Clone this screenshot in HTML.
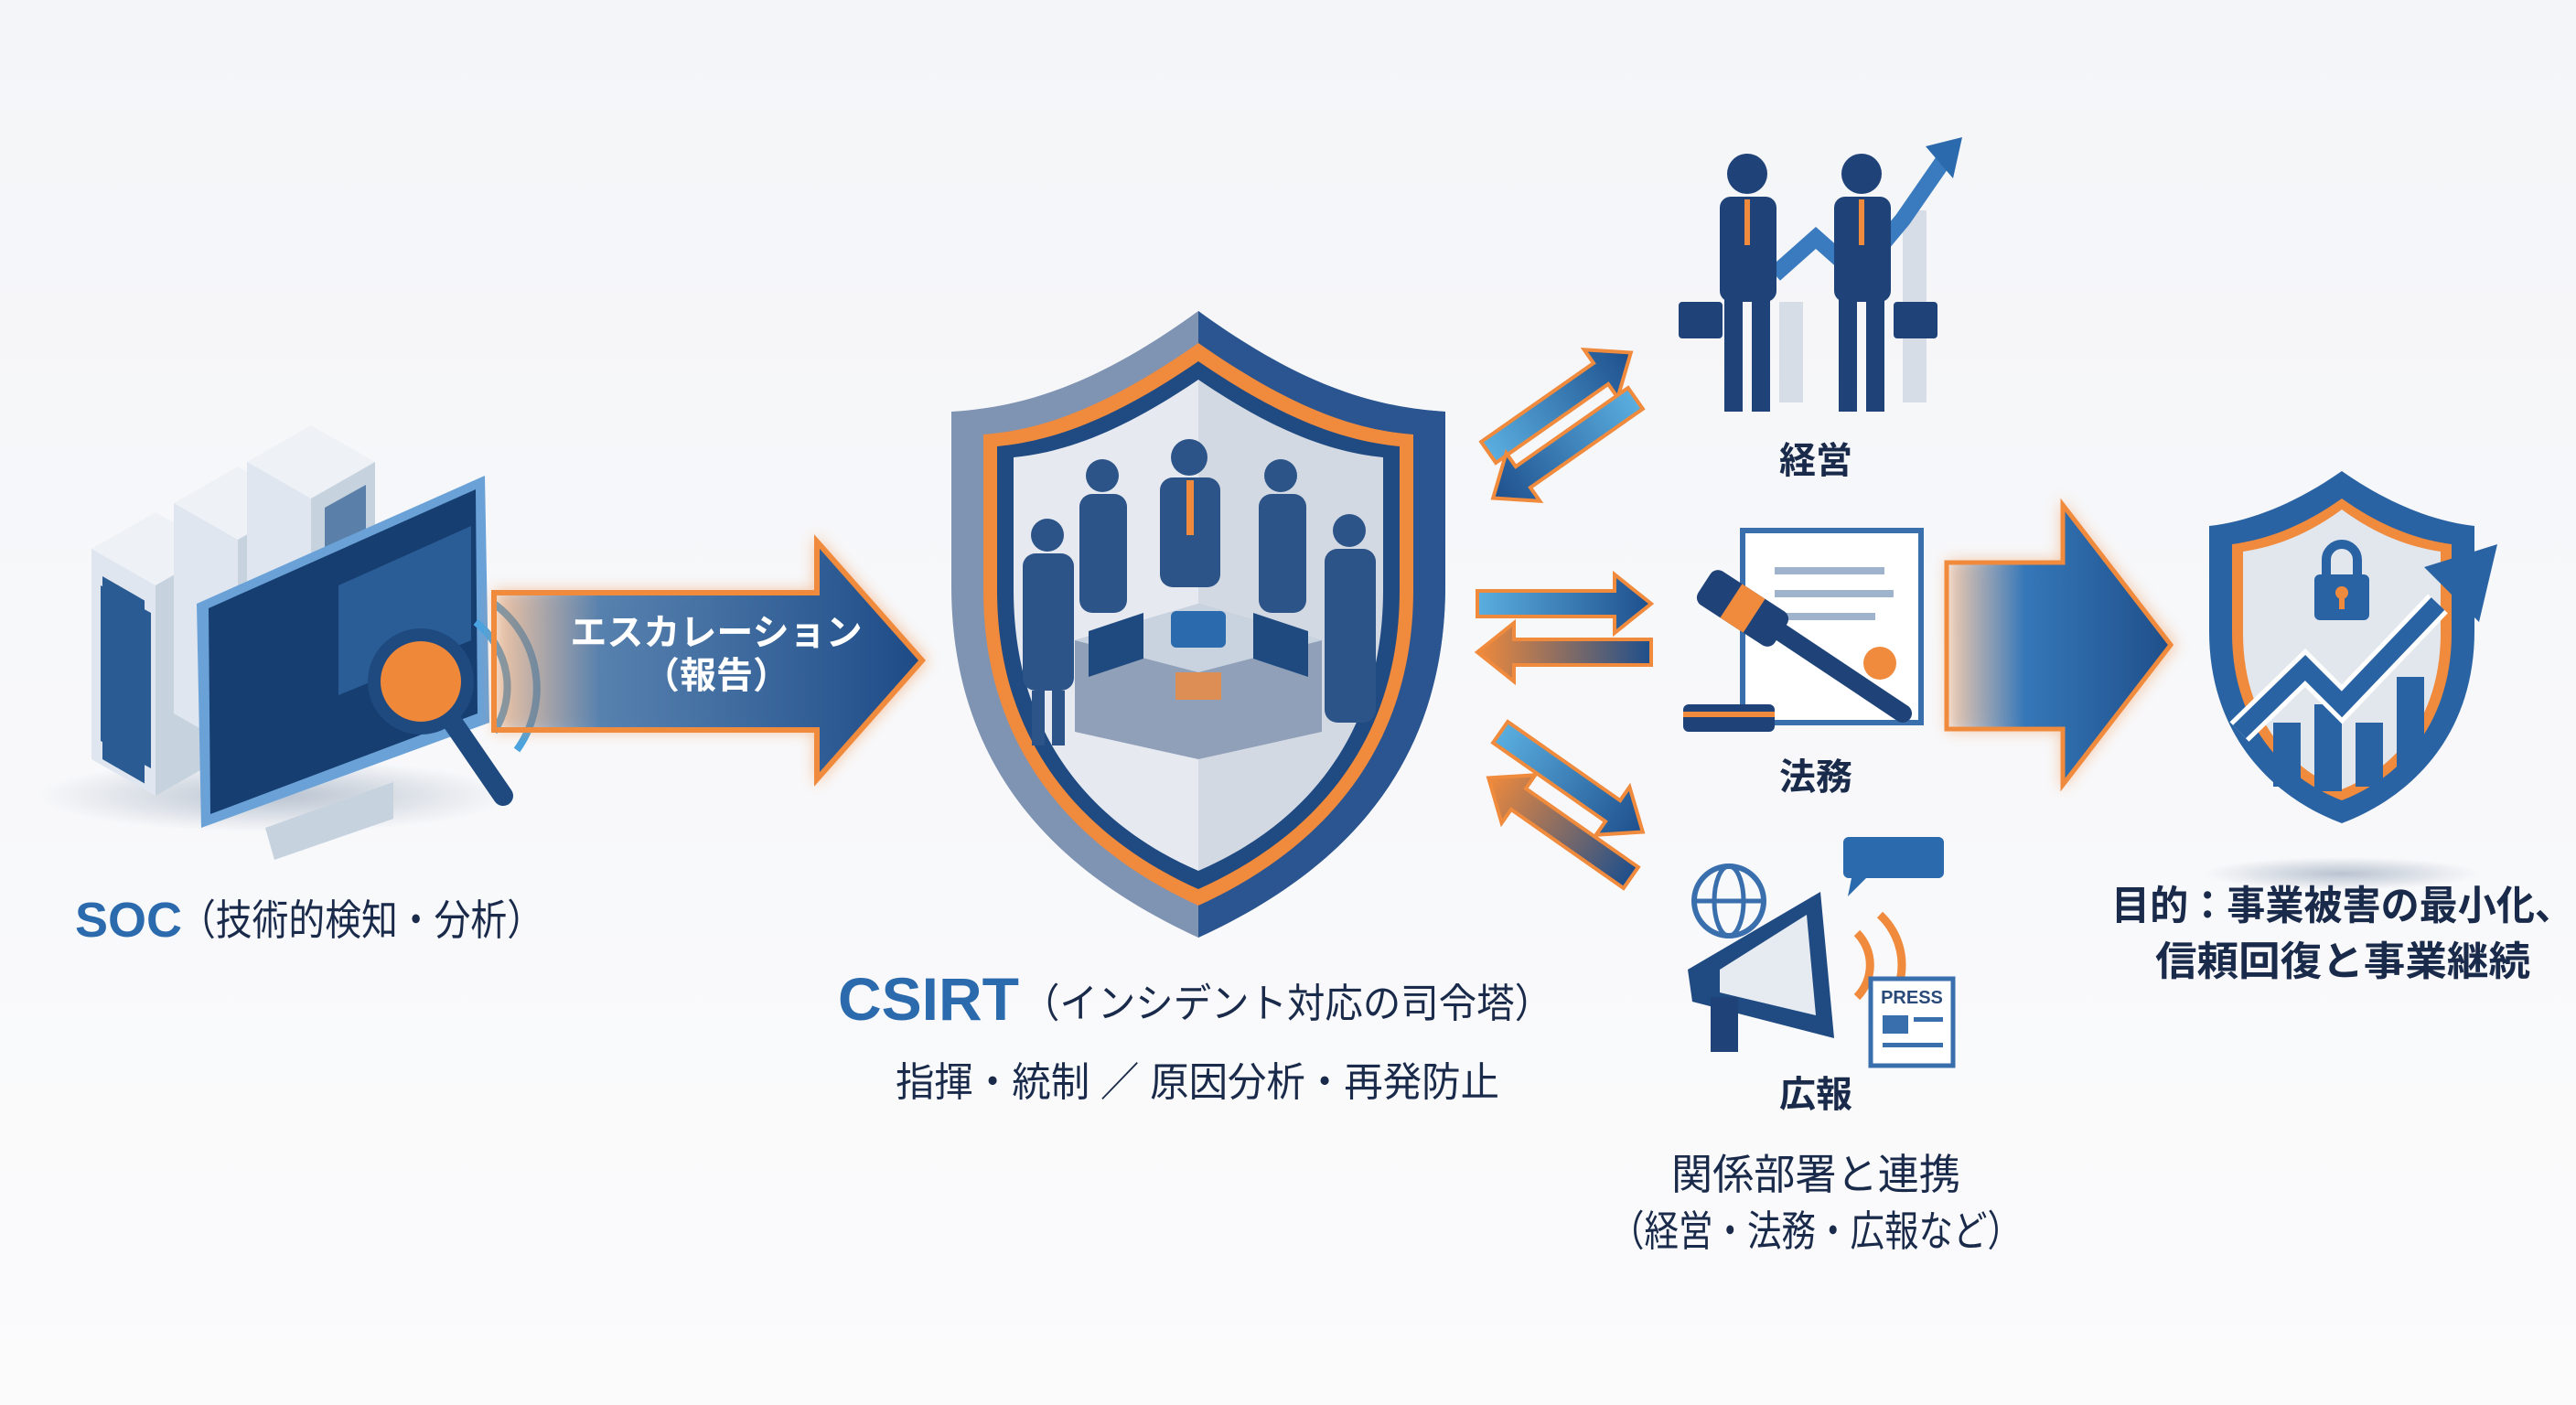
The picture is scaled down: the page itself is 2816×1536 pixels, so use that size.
<!DOCTYPE html>
<html><head><meta charset="utf-8"><style>
html,body{margin:0;padding:0;background:#f8f9fb}
svg{display:block}
text{font-family:"Liberation Sans","Noto Sans CJK JP",sans-serif}
</style></head><body>
<svg width="2816" height="1536" viewBox="0 0 2816 1536" xmlns="http://www.w3.org/2000/svg">
<defs>
<linearGradient id="bg" x1="0" y1="0" x2="0" y2="1"><stop offset="0" stop-color="#f4f5f8"/><stop offset="1" stop-color="#fbfbfc"/></linearGradient>
<linearGradient id="escA" x1="0" y1="0" x2="1" y2="0"><stop offset="0" stop-color="#2f6fb0" stop-opacity="0"/><stop offset="0.25" stop-color="#2f6fb0" stop-opacity="0.8"/><stop offset="1" stop-color="#1d4a86"/></linearGradient>
<linearGradient id="bigA" x1="0" y1="0" x2="1" y2="0"><stop offset="0" stop-color="#3a7bbf" stop-opacity="0"/><stop offset="0.35" stop-color="#3577b8"/><stop offset="1" stop-color="#1f4f8a"/></linearGradient>
<linearGradient id="sa" x1="0" y1="0" x2="1" y2="0"><stop offset="0" stop-color="#5aaee0"/><stop offset="1" stop-color="#1e4f8c"/></linearGradient>
<linearGradient id="sb" x1="0" y1="0" x2="1" y2="0"><stop offset="0" stop-color="#1e4f8c"/><stop offset="1" stop-color="#f08a3c"/></linearGradient>
<linearGradient id="inner" x1="0" y1="0" x2="1" y2="0"><stop offset="0.5" stop-color="#e6eaf0"/><stop offset="0.5" stop-color="#d3d9e2"/></linearGradient>
<filter id="glow"><feGaussianBlur stdDeviation="8"/></filter>
<radialGradient id="shadow"><stop offset="0" stop-color="#b9c3d0"/><stop offset="1" stop-color="#b9c3d0" stop-opacity="0"/></radialGradient>
</defs>
<rect width="2816" height="1536" fill="url(#bg)"/>

<!-- SOC servers -->
<g>
<ellipse cx="300" cy="870" rx="260" ry="40" fill="url(#shadow)"/>
<g transform="translate(100,560)">
 <polygon points="0,40 70,0 140,40 70,80" fill="#eef2f7"/>
 <polygon points="0,40 70,80 70,310 0,270" fill="#dfe6ef"/>
 <rect x="12" y="70" width="46" height="200" fill="#2b5b93" transform="skewY(30)" transform-origin="12 70"/>
 <polygon points="70,80 140,40 140,270 70,310" fill="#c7d2df"/>
</g>
<g transform="translate(190,510)">
 <polygon points="0,40 70,0 140,40 70,80" fill="#eef2f7"/>
 <polygon points="0,40 70,80 70,310 0,270" fill="#dfe6ef"/>
 <polygon points="70,80 140,40 140,270 70,310" fill="#c7d2df"/>
 <polygon points="85,90 130,65 130,250 85,275" fill="#5a7fa8"/>
</g>
<g transform="translate(270,465)">
 <polygon points="0,40 70,0 140,40 70,80" fill="#eef2f7"/>
 <polygon points="0,40 70,80 70,310 0,270" fill="#dfe6ef"/>
 <polygon points="70,80 140,40 140,270 70,310" fill="#c7d2df"/>
 <polygon points="85,90 130,65 130,250 85,275" fill="#5a7fa8"/>
</g>
<polygon points="110,640 165,670 165,840 110,810" fill="#2b5b93"/>
<polygon points="215,660 530,520 535,790 220,905" fill="#6aa2d8"/>
<polygon points="228,665 520,535 522,780 230,890" fill="#173e70"/>
<polygon points="370,640 515,575 515,700 370,760" fill="#2a5d96"/>
<polygon points="290,905 430,855 430,895 300,940" fill="#c7d2df"/>
<circle cx="460" cy="745" r="58" fill="#1f4a80"/>
<circle cx="460" cy="745" r="44" fill="#f0883a"/>
<line x1="495" y1="790" x2="550" y2="870" stroke="#1f4a80" stroke-width="22" stroke-linecap="round"/>
<path d="M520 680 A90 90 0 0 1 540 800" stroke="#4aa3e0" stroke-width="8" fill="none"/>
<path d="M540 660 A115 115 0 0 1 565 820" stroke="#4aa3e0" stroke-width="8" fill="none"/>
</g>
<text x="82" y="1024" font-size="54" font-weight="bold" fill="#2a6aad">SOC</text>
<text x="196" y="1022" font-size="46" fill="#1a2a4a" textLength="398" lengthAdjust="spacingAndGlyphs">（技術的検知・分析）</text>

<!-- escalation arrow -->
<polygon points="540,645 890,645 890,584 1015,722 890,860 890,800 540,800" fill="#f08a3c" opacity="0.45" filter="url(#glow)"/>
<polygon points="540,648 893,648 893,592 1008,722 893,852 893,798 540,798" fill="url(#escA)" stroke="#f08a3c" stroke-width="6"/>
<text x="783" y="705" font-size="40" font-weight="bold" fill="#fff" text-anchor="middle">エスカレーション</text>
<text x="783" y="752" font-size="40" font-weight="bold" fill="#fff" text-anchor="middle">（報告）</text>

<!-- CSIRT shield -->
<path d="M1310,340 C1200,420 1120,445 1040,450 L1040,640 C1040,860 1180,965 1310,1025 C1440,965 1580,860 1580,640 L1580,450 C1500,445 1420,420 1310,340Z" fill="#7f93b3"/>
<path d="M1310,340 L1310,1025 C1440,965 1580,860 1580,640 L1580,450 C1500,445 1420,420 1310,340Z" fill="#2a5590"/>
<path d="M1310,375 C1210,445 1140,470 1075,475 L1075,645 C1075,840 1200,940 1310,990 C1420,940 1545,840 1545,645 L1545,475 C1480,470 1410,445 1310,375Z" fill="#f08a3c"/>
<path d="M1310,395 C1215,460 1150,482 1090,488 L1090,645 C1090,830 1205,925 1310,972 C1415,925 1530,830 1530,645 L1530,488 C1470,482 1405,460 1310,395Z" fill="#1f4a82"/>
<path d="M1310,415 C1222,475 1160,495 1108,500 L1108,645 C1108,820 1212,910 1310,952 C1408,910 1512,820 1512,645 L1512,500 C1460,495 1398,475 1310,415Z" fill="url(#inner)"/>
<g fill="#2d5488">
<circle cx="1145" cy="585" r="18"/><rect x="1118" y="605" width="56" height="150" rx="14"/>
<circle cx="1205" cy="520" r="18"/><rect x="1180" y="540" width="52" height="130" rx="14"/>
<circle cx="1300" cy="500" r="20"/><rect x="1268" y="522" width="66" height="120" rx="14"/>
<circle cx="1400" cy="520" r="18"/><rect x="1376" y="540" width="52" height="130" rx="14"/>
<circle cx="1475" cy="580" r="18"/><rect x="1448" y="600" width="56" height="190" rx="14"/>
<rect x="1128" y="755" width="14" height="60"/><rect x="1150" y="755" width="14" height="60"/>
</g>
<rect x="1297" y="525" width="8" height="60" fill="#f08a3c"/>
<polygon points="1175,700 1310,660 1445,700 1445,800 1310,830 1175,800" fill="#8fa0b8"/>
<polygon points="1175,700 1310,660 1445,700 1310,735" fill="#c9d3e0"/>
<rect x="1280" y="668" width="60" height="40" rx="6" fill="#2a6aad"/>
<polygon points="1190,690 1250,670 1250,720 1190,740" fill="#1e4a80"/>
<polygon points="1370,670 1430,690 1430,740 1370,720" fill="#1e4a80"/>
<rect x="1285" y="735" width="50" height="30" fill="#f08a3c" opacity="0.8"/>
<text x="916" y="1115" font-size="66" font-weight="bold" fill="#2a6aad">CSIRT</text>
<text x="1117" y="1112" font-size="44" fill="#1a2a4a" textLength="580" lengthAdjust="spacingAndGlyphs">（インシデント対応の司令塔）</text>
<text x="979" y="1198" font-size="44" fill="#1a2a4a" textLength="660" lengthAdjust="spacingAndGlyphs">指揮・統制 ／ 原因分析・再発防止</text>

<!-- small arrows -->
<g stroke="#f08a3c" stroke-width="4" stroke-linejoin="miter">
<g transform="translate(1705,440) rotate(-35)"><polygon points="-95,-14 55,-14 55,-32 95,0 55,32 55,14 -95,14" fill="url(#sa)"/></g>
<g transform="translate(1710,490) rotate(145)"><polygon points="-95,-14 55,-14 55,-32 95,0 55,32 55,14 -95,14" fill="url(#sa)"/></g>
<g transform="translate(1710,660)"><polygon points="-95,-14 55,-14 55,-32 95,0 55,32 55,14 -95,14" fill="url(#sa)"/></g>
<g transform="translate(1710,713) rotate(180)"><polygon points="-95,-14 55,-14 55,-32 95,0 55,32 55,14 -95,14" fill="url(#sb)"/></g>
<g transform="translate(1718,855) rotate(35)"><polygon points="-95,-14 55,-14 55,-32 95,0 55,32 55,14 -95,14" fill="url(#sa)"/></g>
<g transform="translate(1705,905) rotate(215)"><polygon points="-95,-14 55,-14 55,-32 95,0 55,32 55,14 -95,14" fill="url(#sb)"/></g>
</g>

<!-- management -->
<g>
<rect x="1945" y="330" width="26" height="110" fill="#d6dde7"/><rect x="2080" y="230" width="26" height="210" fill="#d6dde7"/>
<polyline points="1940,300 1985,260 2030,300 2080,240 2125,175" stroke="#3a7bbf" stroke-width="18" fill="none"/>
<polygon points="2105,160 2145,150 2135,195" fill="#2a6aad"/>
<g fill="#1f4278">
<circle cx="1910" cy="190" r="22"/><rect x="1880" y="215" width="62" height="115" rx="12"/><rect x="1885" y="325" width="20" height="125"/><rect x="1915" y="325" width="20" height="125"/>
<circle cx="2035" cy="190" r="22"/><rect x="2005" y="215" width="62" height="115" rx="12"/><rect x="2010" y="325" width="20" height="125"/><rect x="2040" y="325" width="20" height="125"/>
<rect x="1835" y="330" width="48" height="40" rx="4"/><rect x="2070" y="330" width="48" height="40" rx="4"/>
</g>
<rect x="1907" y="218" width="6" height="50" fill="#f08a3c"/><rect x="2032" y="218" width="6" height="50" fill="#f08a3c"/>
</g>
<text x="1985" y="517" font-size="40" font-weight="bold" fill="#1a2a4a" text-anchor="middle">経営</text>

<!-- legal -->
<g>
<rect x="1905" y="580" width="195" height="210" fill="#fff" stroke="#3a6fae" stroke-width="6"/>
<rect x="1940" y="620" width="120" height="8" fill="#9fb3cc"/><rect x="1940" y="645" width="130" height="8" fill="#9fb3cc"/><rect x="1940" y="670" width="110" height="8" fill="#9fb3cc"/>
<circle cx="2055" cy="725" r="18" fill="#f08a3c"/>
<line x1="1930" y1="680" x2="2080" y2="780" stroke="#1f4278" stroke-width="20" stroke-linecap="round"/>
<g transform="translate(1905,665) rotate(33)"><rect x="-50" y="-22" width="100" height="44" rx="10" fill="#1f4278"/><rect x="-15" y="-22" width="30" height="44" fill="#f08a3c"/></g>
<rect x="1840" y="770" width="100" height="30" rx="6" fill="#1f4278"/>
<rect x="1840" y="778" width="100" height="6" fill="#f08a3c"/>
</g>
<text x="1985" y="863" font-size="40" font-weight="bold" fill="#1a2a4a" text-anchor="middle">法務</text>

<!-- PR -->
<g>
<circle cx="1890" cy="985" r="38" fill="none" stroke="#3a6fae" stroke-width="6"/>
<ellipse cx="1890" cy="985" rx="16" ry="38" fill="none" stroke="#3a6fae" stroke-width="5"/>
<line x1="1852" y1="985" x2="1928" y2="985" stroke="#3a6fae" stroke-width="5"/>
<rect x="2015" y="915" width="110" height="45" rx="6" fill="#2a6aad"/>
<polygon points="2025,955 2045,955 2020,980" fill="#2a6aad"/>
<polygon points="1845,1060 1990,975 2005,1135 1850,1095" fill="#1f4a82"/>
<polygon points="1880,1060 1975,1000 1985,1110 1880,1085" fill="#e6ebf2"/>
<rect x="1870" y="1090" width="30" height="60" fill="#1f4278"/>
<path d="M2030,1020 A50 50 0 0 1 2030,1090" stroke="#f08a3c" stroke-width="9" fill="none"/>
<path d="M2055,1000 A75 75 0 0 1 2055,1110" stroke="#f08a3c" stroke-width="9" fill="none"/>
<rect x="2045" y="1070" width="90" height="95" fill="#fff" stroke="#3a6fae" stroke-width="5"/>
<text x="2090" y="1097" font-size="20" font-weight="bold" fill="#2a4a7a" text-anchor="middle">PRESS</text>
<rect x="2058" y="1110" width="28" height="20" fill="#3a6fae"/><rect x="2092" y="1112" width="32" height="5" fill="#3a6fae"/><rect x="2058" y="1140" width="66" height="5" fill="#3a6fae"/>
</g>
<text x="1985" y="1210" font-size="40" font-weight="bold" fill="#1a2a4a" text-anchor="middle">広報</text>
<text x="1827" y="1300" font-size="46" fill="#1a2a4a" textLength="316" lengthAdjust="spacingAndGlyphs">関係部署と連携</text>
<text x="1760" y="1362" font-size="46" fill="#1a2a4a" textLength="450" lengthAdjust="spacingAndGlyphs">（経営・法務・広報など）</text>

<!-- big arrow -->
<polygon points="2128,612 2252,612 2252,545 2380,705 2252,866 2252,800 2128,800" fill="#f08a3c" opacity="0.4" filter="url(#glow)"/>
<polygon points="2128,615 2255,615 2255,552 2373,705 2255,858 2255,797 2128,797" fill="url(#bigA)" stroke="#f08a3c" stroke-width="5"/>

<!-- final shield -->
<ellipse cx="2560" cy="955" rx="150" ry="18" fill="url(#shadow)"/>
<path d="M2560,515 C2510,550 2460,570 2415,575 L2415,690 C2415,800 2480,870 2560,900 C2640,870 2705,800 2705,690 L2705,575 C2660,570 2610,550 2560,515Z" fill="#2a63a3"/>
<path d="M2560,545 C2518,575 2478,590 2440,595 L2440,692 C2440,790 2495,850 2560,875 C2625,850 2680,790 2680,692 L2680,595 C2642,590 2602,575 2560,545Z" fill="#f08a3c"/>
<path d="M2560,557 C2522,585 2486,598 2452,603 L2452,692 C2452,785 2502,840 2560,863 C2618,840 2668,785 2668,692 L2668,603 C2634,598 2598,585 2560,557Z" fill="#e2e7ee"/>
<rect x="2485" y="790" width="30" height="70" fill="#2a63a3"/><rect x="2530" y="770" width="30" height="95" fill="#2a63a3"/><rect x="2575" y="790" width="30" height="70" fill="#2a63a3"/><rect x="2620" y="740" width="30" height="100" fill="#2a63a3"/>
<polyline points="2448,800 2520,730 2560,770 2665,660" stroke="#fff" stroke-width="30" fill="none"/>
<polyline points="2448,800 2520,730 2560,770 2665,660" stroke="#2a63a3" stroke-width="20" fill="none"/>
<polygon points="2650,620 2730,595 2710,680" fill="#2a63a3"/>
<path d="M2543,630 v-18 a17 17 0 0 1 34 0 v18" stroke="#2a63a3" stroke-width="10" fill="none"/>
<rect x="2530" y="628" width="60" height="50" rx="6" fill="#2a63a3"/>
<circle cx="2560" cy="648" r="7" fill="#f08a3c"/><rect x="2557" y="650" width="6" height="16" fill="#f08a3c"/>

<text x="2308" y="1005" font-size="44" font-weight="bold" fill="#1a2a4a" textLength="505" lengthAdjust="spacingAndGlyphs">目的：事業被害の最小化、</text>
<text x="2356" y="1066" font-size="44" font-weight="bold" fill="#1a2a4a" textLength="410" lengthAdjust="spacingAndGlyphs">信頼回復と事業継続</text>
</svg>
</body></html>
